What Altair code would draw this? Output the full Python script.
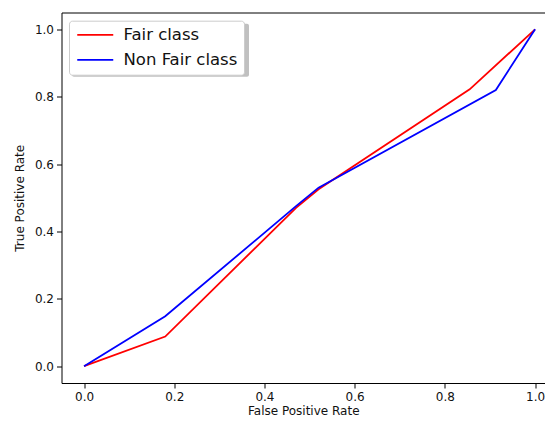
import altair as alt
import pandas as pd

fair_fpr = [0.0, 0.18, 0.47, 0.52, 0.855, 1.0]
fair_tpr = [0.0, 0.088, 0.47, 0.525, 0.822, 1.0]
nonfair_fpr = [0.0, 0.18, 0.47, 0.52, 0.913, 1.0]
nonfair_tpr = [0.0, 0.148, 0.475, 0.53, 0.82, 1.0]
series = ["Fair class", "Non Fair class"]
colors = ["#ff0000", "#0000ff"]
ticks = [0.0, 0.2, 0.4, 0.6, 0.8, 1.0]

rows = []
for i, (x, y) in enumerate(zip(fair_fpr, fair_tpr)):
    rows.append({"fpr": x, "tpr": y, "cls": series[0], "ord": i})
for i, (x, y) in enumerate(zip(nonfair_fpr, nonfair_tpr)):
    rows.append({"fpr": x, "tpr": y, "cls": series[1], "ord": i})
df = pd.DataFrame(rows)

W, H = 483.5, 370.5

shadow = alt.Chart(pd.DataFrame({"a": [0]})).mark_rect(
    color="#b0b0b0", opacity=0.8, cornerRadius=2
).encode(
    x=alt.value(10.5), x2=alt.value(187.5), y=alt.value(11.2), y2=alt.value(64.2)
)

lines = alt.Chart(df).mark_line(strokeWidth=1.8).encode(
    x=alt.X("fpr:Q", scale=alt.Scale(domain=[-0.05, 1.022], nice=False, zero=False),
            axis=alt.Axis(values=ticks, format=".1f", title="False Positive Rate")),
    y=alt.Y("tpr:Q", scale=alt.Scale(domain=[-0.05, 1.05], nice=False, zero=False),
            axis=alt.Axis(values=ticks, format=".1f", title="True Positive Rate")),
    color=alt.Color("cls:N", scale=alt.Scale(domain=series, range=colors),
                    legend=alt.Legend(
                        title=None, orient="none", legendX=7.5, legendY=8.2,
                        symbolType="M-1,0H5", symbolSize=144, symbolStrokeWidth=1.8,
                        labelFontSize=16.5, labelOffset=32, labelFont="DejaVu Sans",
                        labelColor="#111111",
                        padding=6, rowPadding=8, fillColor="white",
                        strokeColor="#cccccc", cornerRadius=3,
                    )),
    order="ord:Q",
)

chart = alt.layer(shadow, lines).properties(
    width=W, height=H,
    autosize=alt.AutoSizeParams(type="none"),
    padding={"left": 53.5, "top": 4.5, "right": 0, "bottom": 33},
).configure_view(
    stroke="#000000", strokeWidth=1
).configure_axis(
    domain=False, grid=False, tickColor="#000000", tickSize=5, tickWidth=1,
    labelFont="DejaVu Sans", labelFontSize=12, labelColor="#111111", labelPadding=3,
    titleFont="DejaVu Sans", titleFontSize=12, titleFontWeight="normal", titleColor="#111111",
).configure_axisX(titlePadding=3).configure_axisY(titlePadding=8)

chart.save("out.html", embed_options={"renderer": "svg", "actions": False})
